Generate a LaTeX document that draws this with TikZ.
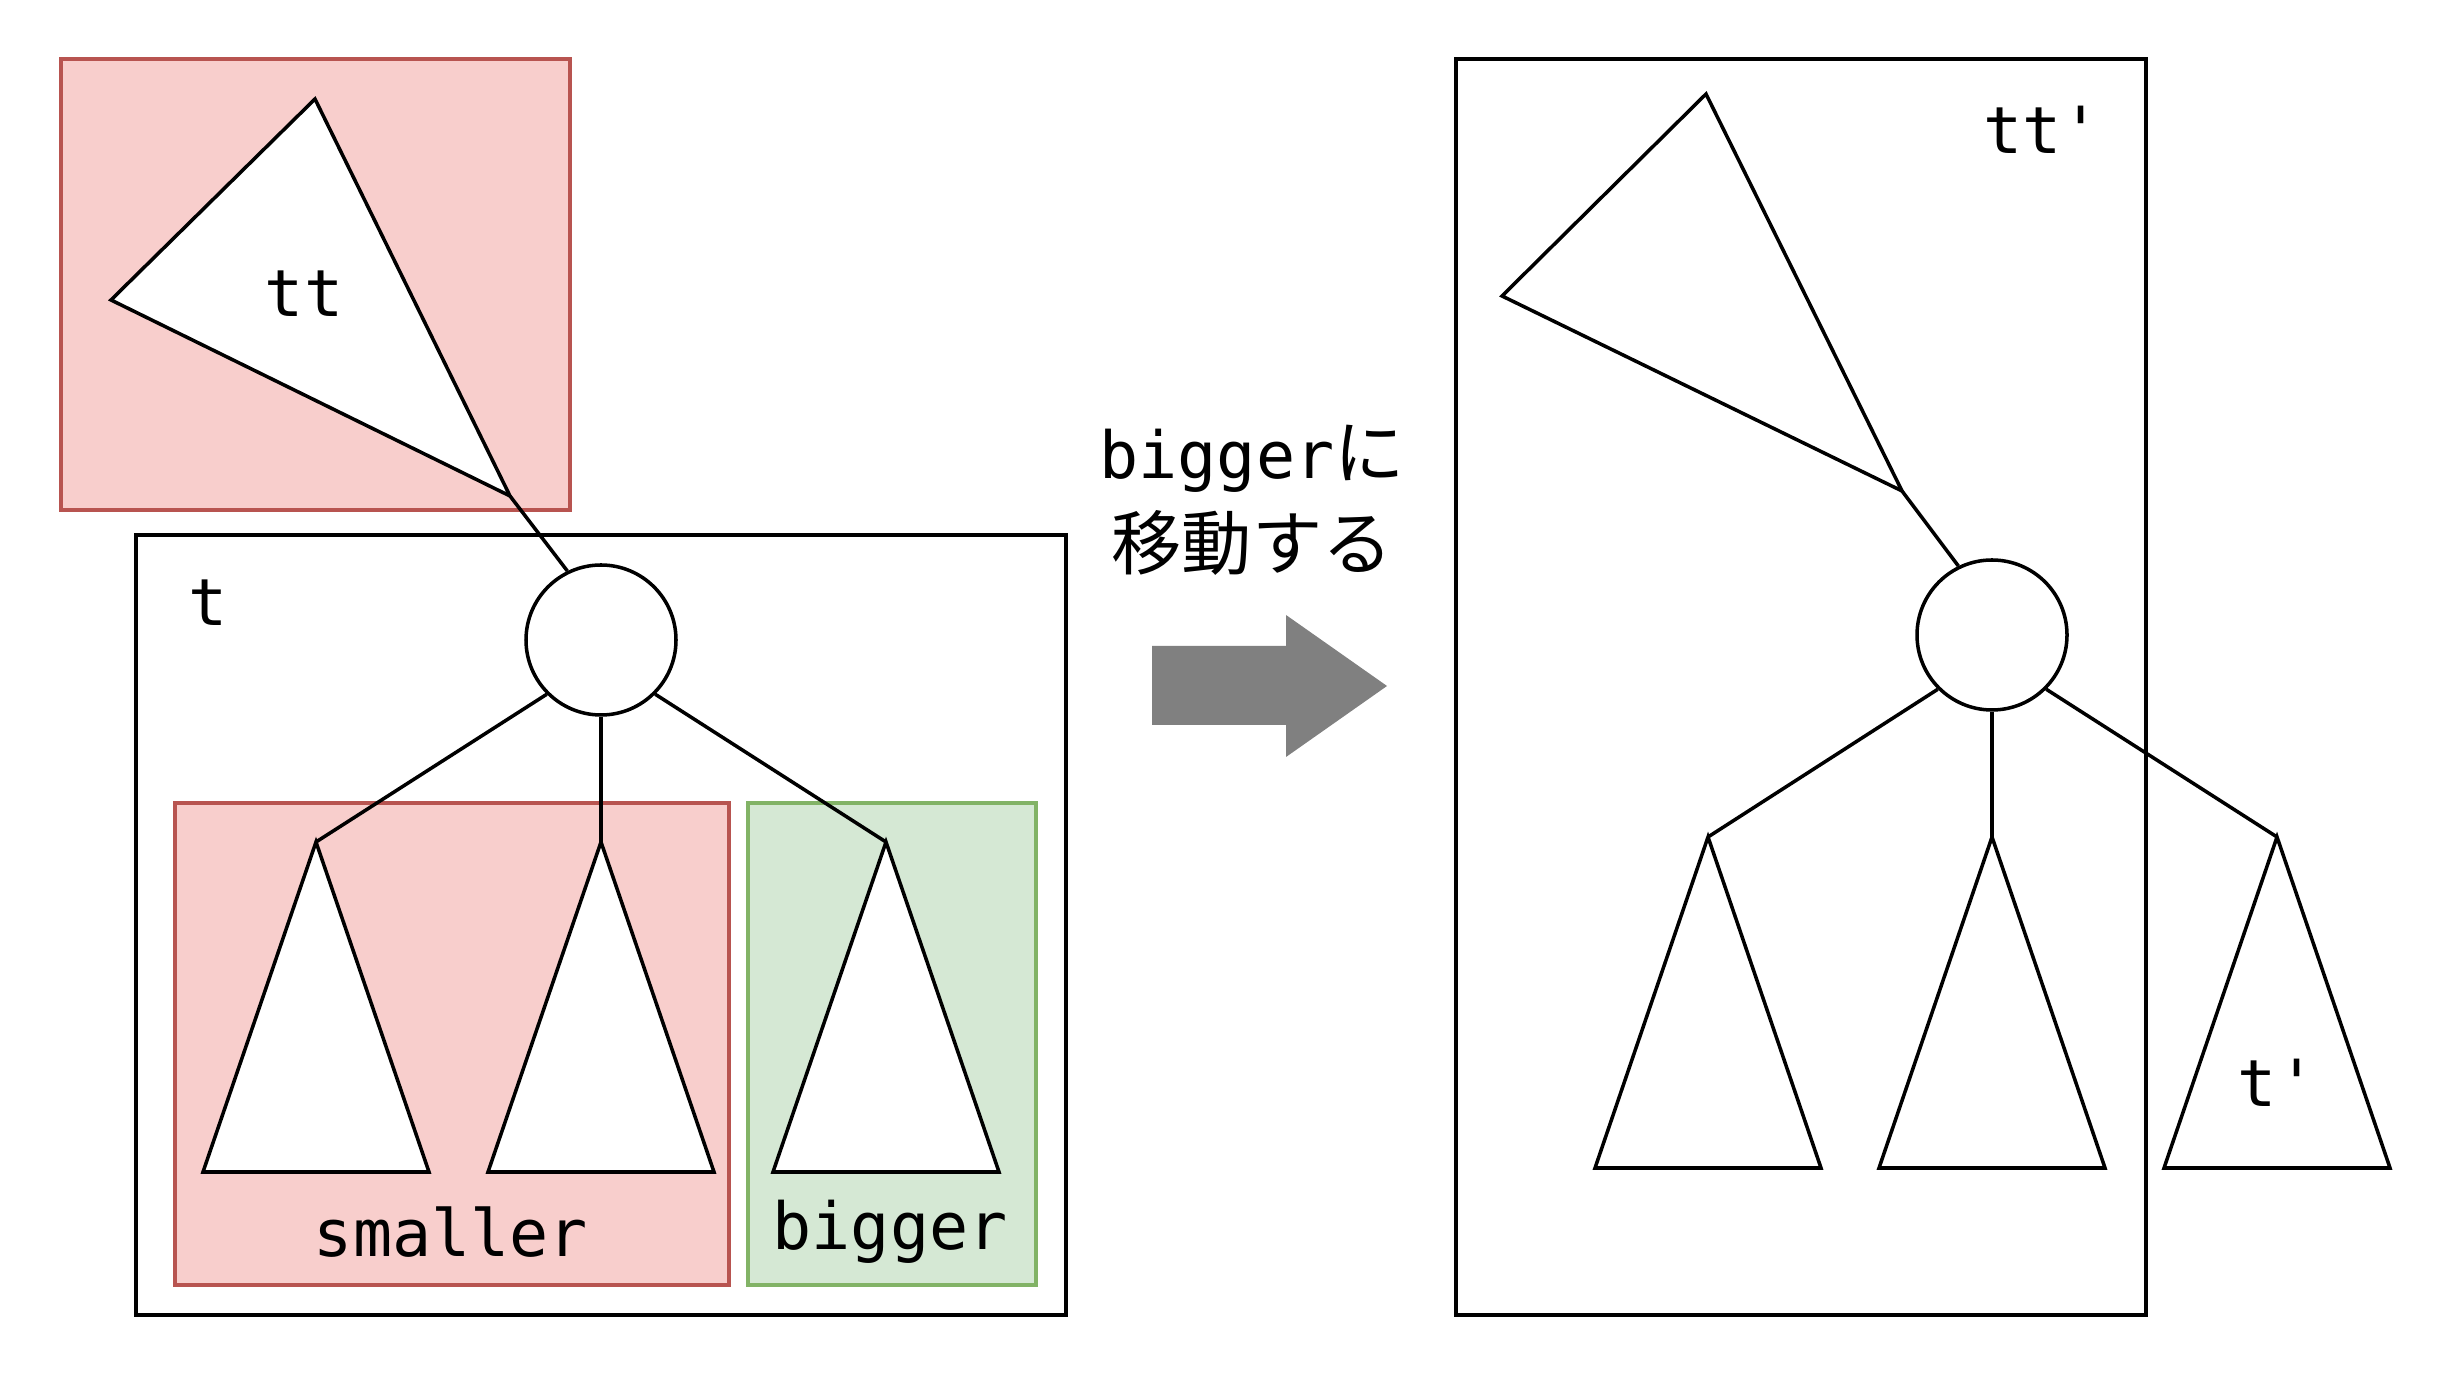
\documentclass[tikz,border=0pt]{standalone}
\usepackage{fontspec}
\newfontfamily\codefont{DejaVu Sans Mono}
\newfontfamily\jpfont{Noto Sans CJK JP}
\usetikzlibrary{calc,positioning}
\definecolor{redfill}{HTML}{F8CECC}
\definecolor{redline}{HTML}{B85450}
\definecolor{greenfill}{HTML}{D5E8D4}
\definecolor{greenline}{HTML}{82B366}
\definecolor{arrowgray}{HTML}{808080}
\tikzset{
  every picture/.style={line width=1pt, line join=miter},
  every node/.style={font=\codefont\fontsize{18.5}{22}\selectfont},
  % Kästen
  frame/.style={draw=black},
  redbox/.style={draw=redline, fill=redfill},
  greenbox/.style={draw=greenline, fill=greenfill},
  % Knoten und Teilbäume
  rootnode/.style={circle, draw, fill=white, minimum size=1.5cm, inner sep=0pt},
  subtree/.style={draw, fill=white},
  lbl/.style={inner sep=1pt},
}
\newcommand{\subtri}[2]{% apex name, apex x
  \coordinate (#1) at (#2,\apexy);
  \draw[subtree] (#1) -- ($(#1)+(-1.13,\basey-\apexy)$) -- ($(#1)+(1.13,\basey-\apexy)$) -- cycle;}
\begin{document}
\begin{tikzpicture}
  \useasboundingbox (0,0) rectangle (24.54,13.80);
  % ---------- links: t und tt ----------
  \draw[redbox] (0.61,13.21) rectangle (5.70,8.70);
  \draw[subtree] (3.15,12.81) -- (1.11,10.80) -- (5.10,8.84) coordinate (ttL) -- cycle;
  \node[lbl] (ttlabel) at (3.04,10.86) {tt};
  \draw[frame] (1.36,8.45) rectangle (10.66,0.65);
  \node[lbl] (tlabel) at (2.08,7.77) {t};
  \draw[redbox] (1.75,5.77) rectangle (7.29,0.95);
  \draw[greenbox] (7.48,5.77) rectangle (10.36,0.95);
  \node[rootnode] (rootL) at (6.01,7.40) {};
  \def\apexy{5.38} \def\basey{2.08}
  \subtri{aL}{3.16} \subtri{bL}{6.01} \subtri{cL}{8.86}
  \draw (ttL) -- (rootL.116);
  \draw (rootL.-135) -- (aL);
  \draw (rootL.south) -- (bL);
  \draw (rootL.-45) -- (cL);
  \node[lbl] (smaller) at (4.51,1.48) {smaller};
  \node[lbl] (bigger) at (8.90,1.48) {bigger};
  % ---------- Pfeil ----------
  \node[lbl, font=\jpfont\fontsize{20}{24}\selectfont] (step1) at (12.52,9.21) {{\codefont\fontsize{18.5}{22}\selectfont bigger}に};
  \node[lbl, font=\jpfont\fontsize{20}{24}\selectfont] (step2) at (12.52,8.37) {移動する};
  \fill[arrowgray] (11.52,7.34) -- (12.86,7.34) -- (12.86,7.65) -- (13.87,6.94)
    -- (12.86,6.23) -- (12.86,6.55) -- (11.52,6.55) -- cycle;
  % ---------- rechts: tt' ----------
  \draw[frame] (14.56,13.21) rectangle (21.46,0.65);
  \node[lbl] (ttplabel) at (20.42,12.50) {tt'};
  \draw[subtree] (17.06,12.86) -- (15.02,10.84) -- (19.02,8.89) coordinate (ttR) -- cycle;
  \node[rootnode] (rootR) at (19.92,7.45) {};
  \def\apexy{5.43} \def\basey{2.12}
  \subtri{aR}{17.08} \subtri{bR}{19.92} \subtri{cR}{22.77}
  \draw (ttR) -- (rootR.116);
  \draw (rootR.-135) -- (aR);
  \draw (rootR.south) -- (bR);
  \draw (rootR.-45) -- (cR);
  \node[lbl] (tplabel) at (22.77,2.97) {t'};
\end{tikzpicture}
\end{document}
